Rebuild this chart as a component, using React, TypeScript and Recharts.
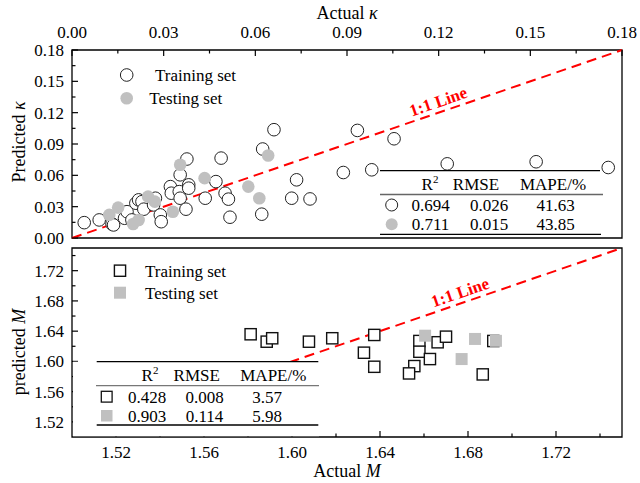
import React from "react";
import { ScatterChart, Scatter, XAxis, YAxis, ReferenceLine, ReferenceArea, ReferenceDot } from "recharts";

const FONT = '"Liberation Serif", "Times New Roman", serif';

// ---- kappa panel ----
const kappaTicks = [0, 0.015, 0.03, 0.045, 0.06, 0.075, 0.09, 0.105, 0.12, 0.135, 0.15, 0.165, 0.18];
const kappaMajor = [0, 0.03, 0.06, 0.09, 0.12, 0.15, 0.18];
const kappaTrainActual = [
  0.004, 0.0089, 0.0131, 0.0136, 0.0172, 0.018, 0.0196, 0.0209, 0.0218, 0.0229, 0.0235, 0.0267, 0.0273,
  0.0289, 0.0292, 0.0322, 0.0325, 0.0351, 0.0354, 0.0354, 0.0376, 0.0382, 0.0382, 0.0373, 0.0436, 0.0471,
  0.0488, 0.0501, 0.0512, 0.0517, 0.0621, 0.0624, 0.0661, 0.0735, 0.0719, 0.0779, 0.0888, 0.0934, 0.0981,
  0.1054, 0.1228, 0.1519, 0.1755,
];
const kappaTrainPred = [
  0.0147, 0.0173, 0.0134, 0.0125, 0.0189, 0.0252, 0.0173, 0.0333, 0.0365, 0.0348, 0.0276, 0.0317, 0.0381,
  0.0221, 0.0156, 0.0492, 0.0429, 0.0444, 0.0381, 0.0605, 0.0756, 0.0509, 0.0477, 0.0276, 0.0381, 0.054,
  0.0765, 0.0429, 0.0372, 0.0199, 0.0228, 0.0852, 0.1037, 0.0557, 0.0381, 0.0374, 0.0627, 0.103, 0.0653,
  0.095, 0.071, 0.073, 0.0675,
];
const kappaTestActual = [0.0122, 0.0151, 0.02, 0.0218, 0.0249, 0.0271, 0.033, 0.0354, 0.0434, 0.0577, 0.0613, 0.0642];
const kappaTestPred = [0.0221, 0.0291, 0.0134, 0.0173, 0.0396, 0.0348, 0.0252, 0.0701, 0.0573, 0.0492, 0.0381, 0.079];
const kappaLine = [0, 0.18];

// ---- M panel ----
const mTicks = [1.52, 1.54, 1.56, 1.58, 1.6, 1.62, 1.64, 1.66, 1.68, 1.7, 1.72, 1.74];
const mMajor = [1.52, 1.56, 1.6, 1.64, 1.68, 1.72];
const mTrainActual = [
  1.5812, 1.5885, 1.591, 1.6077, 1.6183, 1.6374, 1.6327, 1.6374, 1.6579, 1.6579, 1.6556, 1.6532, 1.6627,
  1.6662, 1.67, 1.6867, 1.6915,
];
const mTrainPred = [
  1.6359, 1.6261, 1.6306, 1.6261, 1.6306, 1.635, 1.6115, 1.5929, 1.627, 1.6128, 1.5938, 1.5841, 1.6031,
  1.6253, 1.6327, 1.5828, 1.627,
];
const mTestActual = [1.6605, 1.6832, 1.6771, 1.6927];
const mTestPred = [1.634, 1.6297, 1.6031, 1.6272];
const mLine = [1.5, 1.75];

// metric tables
const metricHeads = ["RMSE", "MAPE/%"];
const kappaRows = [
  ["0.694", "0.026", "41.63"],
  ["0.711", "0.015", "43.85"],
];
const mRows = [
  ["0.428", "0.008", "3.57"],
  ["0.903", "0.114", "5.98"],
];

const zip = (xs: number[], ys: number[]) => xs.map((x, i) => ({ x, y: ys[i] }));
const kappaTrain = zip(kappaTrainActual, kappaTrainPred);
const kappaTest = zip(kappaTestActual, kappaTestPred);
const mTrain = zip(mTrainActual, mTrainPred);
const mTest = zip(mTestActual, mTestPred);

const GREY = "#c0c0c0";
const RED = "#ff0000";

const OpenCircle = (p: any) => <circle cx={p.cx} cy={p.cy} r={6.3} fill="#fff" stroke="#222" strokeWidth={1} />;
const FillCircle = (p: any) => <circle cx={p.cx} cy={p.cy} r={6.3} fill={GREY} />;
const OpenSquare = (p: any) => (
  <rect x={p.cx - 5.6} y={p.cy - 5.6} width={11.2} height={11.2} fill="#fff" stroke="#111" strokeWidth={1.4} />
);
const FillSquare = (p: any) => <rect x={p.cx - 6} y={p.cy - 6} width={12} height={12} fill={GREY} />;

const OneToOneTag = (p: any) => (
  <text
    x={p.cx}
    y={p.cy}
    dy={-5}
    transform={`rotate(-19 ${p.cx} ${p.cy})`}
    textAnchor="middle"
    fill={RED}
    fontWeight="bold"
    fontSize={17}
    fontFamily={FONT}
  >
    1:1 Line
  </text>
);

// inward ticks, majors labelled
const AxisTick = (props: any) => {
  const { x, y, payload, side, majors } = props;
  const v = payload.value as number;
  const major = majors.some((m: number) => Math.abs(m - v) < 1e-6);
  const len = major ? 6 : 3.5;
  const label = v.toFixed(2);
  const txt = { fontFamily: FONT, fontSize: 17, fill: "#000" };
  if (side === "left") {
    return (
      <g>
        <line x1={x} y1={y} x2={x + len} y2={y} stroke="#000" strokeWidth={1.2} />
        {major && (
          <text x={x - 8} y={y + 6} textAnchor="end" {...txt}>
            {label}
          </text>
        )}
      </g>
    );
  }
  if (side === "top") {
    return (
      <g>
        <line x1={x} y1={y} x2={x} y2={y + len} stroke="#000" strokeWidth={1.2} />
        {major && (
          <text x={x} y={y - 12} textAnchor="middle" {...txt}>
            {label}
          </text>
        )}
      </g>
    );
  }
  return (
    <g>
      <line x1={x} y1={y} x2={x} y2={y - len} stroke="#000" strokeWidth={1.2} />
      {major && (
        <text x={x} y={y + 21} textAnchor="middle" {...txt}>
          {label}
        </text>
      )}
    </g>
  );
};

const axisCommon = {
  type: "number" as const,
  tickLine: false,
  axisLine: false,
  tickSize: 0,
  tickMargin: 0,
  interval: 0 as const,
  allowDataOverflow: true,
};

const Overlay = () => {
  const t = { fontFamily: FONT, fontSize: 17, fill: "#000" };
  return (
    <svg width={640} height={483} style={{ position: "absolute", left: 0, top: 0, pointerEvents: "none" }}>
      {/* axis titles */}
      <text x={347} y={19} textAnchor="middle" {...t} fontSize={18}>
        Actual <tspan fontStyle="italic">κ</tspan>
      </text>
      <text x={347} y={477} textAnchor="middle" {...t} fontSize={18}>
        Actual <tspan fontStyle="italic">M</tspan>
      </text>
      <text x={25} y={142} textAnchor="middle" transform="rotate(-90 25 142)" {...t} fontSize={18}>
        Predicted <tspan fontStyle="italic">κ</tspan>
      </text>
      <text x={25} y={352} textAnchor="middle" transform="rotate(-90 25 352)" {...t} fontSize={18}>
        predicted <tspan fontStyle="italic">M</tspan>
      </text>

      {/* legends */}
      <circle cx={126.7} cy={75} r={6.3} fill="#fff" stroke="#222" />
      <text x={155} y={81} {...t}>Training set</text>
      <circle cx={126.7} cy={98.3} r={6.3} fill={GREY} />
      <text x={149.3} y={104} {...t}>Testing set</text>

      <rect x={114.4} y={265.1} width={11.2} height={11.2} fill="#fff" stroke="#111" strokeWidth={1.4} />
      <text x={145} y={277} {...t}>Training set</text>
      <rect x={114} y={286.7} width={12} height={12} fill={GREY} />
      <text x={145} y={299} {...t}>Testing set</text>

      {/* kappa metrics */}
      <line x1={380} x2={600} y1={170.7} y2={170.7} stroke="#000" strokeWidth={1.3} />
      <text x={430} y={190} textAnchor="middle" {...t}>
        R<tspan fontSize={11} dy={-7}>2</tspan>
      </text>
      <text x={476} y={190} textAnchor="middle" {...t}>{metricHeads[0]}</text>
      <text x={553} y={190} textAnchor="middle" {...t}>{metricHeads[1]}</text>
      <line x1={380} x2={603} y1={194.5} y2={194.5} stroke="#666" strokeWidth={1.3} />
      <circle cx={391.7} cy={205} r={6} fill="#fff" stroke="#222" />
      <circle cx={391.7} cy={224.3} r={6} fill={GREY} />
      {kappaRows.map((row, i) => (
        <g key={i}>
          <text x={430.5} y={211 + i * 19.3} textAnchor="middle" {...t}>{row[0]}</text>
          <text x={489} y={211 + i * 19.3} textAnchor="middle" {...t}>{row[1]}</text>
          <text x={555.5} y={211 + i * 19.3} textAnchor="middle" {...t}>{row[2]}</text>
        </g>
      ))}
      <line x1={380} x2={601} y1={234.3} y2={234.3} stroke="#000" strokeWidth={1.3} />

      {/* M metrics */}
      <rect x={73} y={361.7} width={246} height={74.5} fill="#fff" />
      <line x1={96.7} x2={318.3} y1={361.7} y2={361.7} stroke="#000" strokeWidth={1.3} />
      <text x={150} y={381} textAnchor="middle" {...t}>
        R<tspan fontSize={11} dy={-7}>2</tspan>
      </text>
      <text x={196.7} y={381} textAnchor="middle" {...t}>{metricHeads[0]}</text>
      <text x={273.3} y={381} textAnchor="middle" {...t}>{metricHeads[1]}</text>
      <line x1={96} x2={319} y1={385.7} y2={385.7} stroke="#777" strokeWidth={1.3} />
      <rect x={101.3} y={391.3} width={10.8} height={10.8} fill="#fff" stroke="#111" strokeWidth={1.3} />
      <rect x={101} y={410} width={11.5} height={11.5} fill={GREY} />
      {mRows.map((row, i) => (
        <g key={i}>
          <text x={147} y={402.5 + i * 19} textAnchor="middle" {...t}>{row[0]}</text>
          <text x={204.5} y={402.5 + i * 19} textAnchor="middle" {...t}>{row[1]}</text>
          <text x={267} y={402.5 + i * 19} textAnchor="middle" {...t}>{row[2]}</text>
        </g>
      ))}
      <line x1={96.7} x2={318.3} y1={425} y2={425} stroke="#000" strokeWidth={1.3} />
    </svg>
  );
};

export default function App() {
  return (
    <div style={{ position: "absolute", left: 0, top: 0, width: 640, height: 483, background: "#fff" }}>
      <div style={{ position: "absolute", left: 0, top: 0 }}>
        <ScatterChart width={640} height={256} margin={{ top: 0, right: 18, bottom: 18, left: 0 }}>
          <XAxis
            {...axisCommon}
            dataKey="x"
            orientation="top"
            height={50}
            domain={[0, 0.18]}
            ticks={kappaTicks}
            tick={(p: any) => <AxisTick {...p} side="top" majors={kappaMajor} />}
          />
          <YAxis
            {...axisCommon}
            dataKey="y"
            width={72}
            domain={[0, 0.18]}
            ticks={kappaTicks}
            tick={(p: any) => <AxisTick {...p} side="left" majors={kappaMajor} />}
          />
          <ReferenceLine
            segment={[
              { x: kappaLine[0], y: kappaLine[0] },
              { x: kappaLine[1], y: kappaLine[1] },
            ]}
            stroke={RED}
            strokeWidth={2}
            strokeDasharray="10 6"
          />
          <Scatter data={kappaTrain} shape={OpenCircle} isAnimationActive={false} />
          <Scatter data={kappaTest} shape={FillCircle} isAnimationActive={false} />
          <ReferenceDot x={0.121} y={0.121} shape={OneToOneTag} />
          <ReferenceArea x1={0} x2={0.18} y1={0} y2={0.18} fill="none" stroke="#000" strokeWidth={1.3} />
        </ScatterChart>
      </div>
      <div style={{ position: "absolute", left: 0, top: 240 }}>
        <ScatterChart width={640} height={243} margin={{ top: 8, right: 18, bottom: 0, left: 0 }}>
          <XAxis
            {...axisCommon}
            dataKey="x"
            orientation="bottom"
            height={46}
            domain={[1.5, 1.75]}
            ticks={mTicks}
            tick={(p: any) => <AxisTick {...p} side="bottom" majors={mMajor} />}
          />
          <YAxis
            {...axisCommon}
            dataKey="y"
            width={72}
            domain={[1.5, 1.75]}
            ticks={mTicks}
            tick={(p: any) => <AxisTick {...p} side="left" majors={mMajor} />}
          />
          <ReferenceLine
            segment={[
              { x: mLine[0], y: mLine[0] },
              { x: mLine[1], y: mLine[1] },
            ]}
            stroke={RED}
            strokeWidth={2}
            strokeDasharray="10 6"
            strokeDashoffset={10}
          />
          <Scatter data={mTrain} shape={OpenSquare} isAnimationActive={false} />
          <Scatter data={mTest} shape={FillSquare} isAnimationActive={false} />
          <ReferenceDot x={1.678} y={1.678} shape={OneToOneTag} />
          <ReferenceArea x1={1.5} x2={1.75} y1={1.5} y2={1.75} fill="none" stroke="#000" strokeWidth={1.3} />
        </ScatterChart>
      </div>
      <Overlay />
    </div>
  );
}
